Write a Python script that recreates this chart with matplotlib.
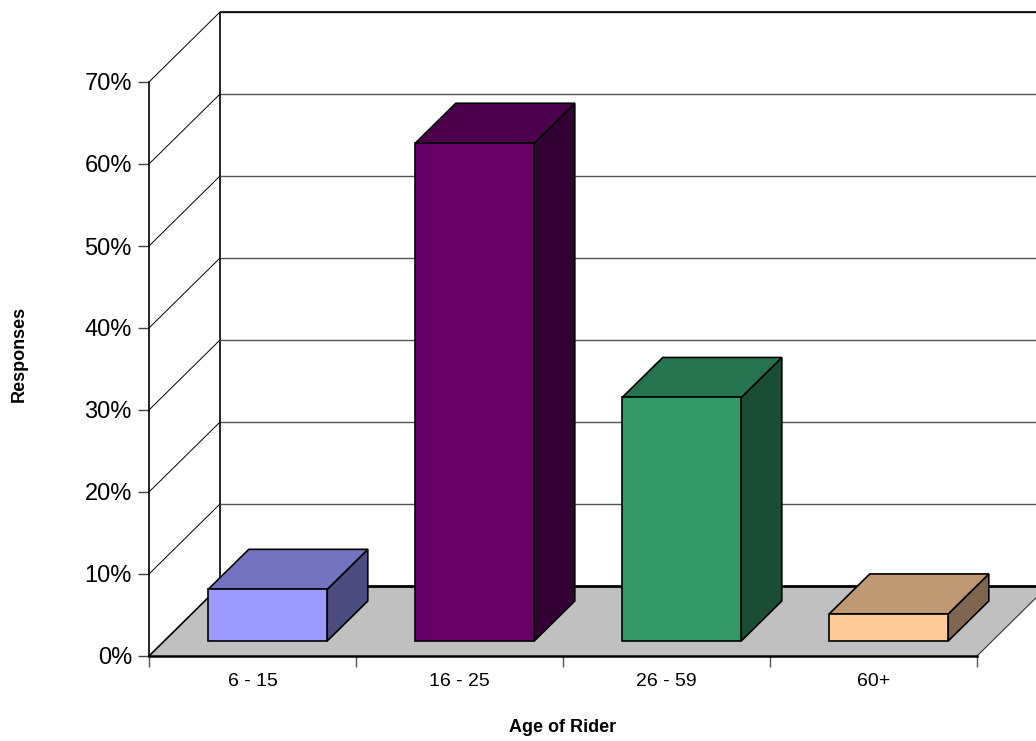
import matplotlib
matplotlib.use("Agg")
import matplotlib.pyplot as plt
from matplotlib.patches import Polygon

plt.rcParams['font.family'] = ['Liberation Sans', 'DejaVu Sans']

# Share of responses by age group (percent)
categories = ["6 - 15", "16 - 25", "26 - 59", "60+"]
responses = [6.3, 60.7, 29.7, 3.3]
y_ticks = [0, 10, 20, 30, 40, 50, 60, 70]
y_tick_labels = ["0%", "10%", "20%", "30%", "40%", "50%", "60%", "70%"]

front_colors = ["#9999FF", "#660066", "#339966", "#FFCC99"]
top_colors = ["#7373BF", "#4C004C", "#267350", "#BF9973"]
side_colors = ["#4C4C80", "#330033", "#1A4D33", "#806650"]

W, H = 1036, 741
fig = plt.figure(figsize=(W / 100, H / 100), dpi=100)
fig.patch.set_facecolor("white")

# front plane of the 3-D box: x in category units, y in percent
ax = fig.add_axes([149 / W, (H - 656) / H, (977 - 149) / W, (656 - 82) / H])
n = len(categories)
ymax = 70
ax.set_xlim(0, n)
ax.set_ylim(0, ymax)
ax.patch.set_alpha(0)

# oblique depth offset (full depth) in data units
DX = 71 / 207.0
DY = 70 / 8.2
BAR_W = 0.575
D0, D1 = 15 / 70.0, 55 / 70.0


def proj(x, y, d):
    return (x + d * DX, y + d * DY)


def poly(pts, fc, ec="black", lw=1.0, z=1):
    p = Polygon([proj(*q) for q in pts], closed=True, facecolor=fc,
                edgecolor=ec, linewidth=lw, zorder=z, clip_on=False,
                joinstyle="miter")
    ax.add_patch(p)


def line(a, b, color="black", lw=1.0, z=2):
    pa, pb = proj(*a), proj(*b)
    ax.plot([pa[0], pb[0]], [pa[1], pb[1]], color=color, lw=lw, zorder=z,
            clip_on=False, solid_capstyle="butt")


# walls and floor
poly([(0, 0, 1), (n, 0, 1), (n, ymax, 1), (0, ymax, 1)], "white", lw=0, z=0.5)
poly([(0, 0, 0), (0, 0, 1), (0, ymax, 1), (0, ymax, 0)], "white", lw=0, z=0.5)
for v in y_ticks[1:]:
    line((0, v, 0), (0, v, 1), color="black", lw=0.7, z=1)
    line((0, v, 1), (n, v, 1), color="#555555", lw=1.0, z=1)
line((0, ymax, 1), (n, ymax, 1), color="black", lw=1.2, z=1.1)
line((0, 0, 1), (0, ymax, 1), color="black", lw=1.2, z=1.1)

poly([(0, 0, 0), (n, 0, 0), (n, 0, 1), (0, 0, 1)], "#C0C0C0", lw=0, z=1.5)
line((0, 0, 1), (n, 0, 1), color="black", lw=2.0, z=1.6)
line((0, 0, 0), (0, 0, 1), color="black", lw=1.2, z=1.6)
line((n, 0, 0), (n, 0, 1), color="#333333", lw=0.8, z=1.6)

# bars
for i, h in enumerate(responses):
    c = i + 0.5
    x0, x1 = c - BAR_W / 2, c + BAR_W / 2
    z = 3 + i
    poly([(x1, 0, D0), (x1, 0, D1), (x1, h, D1), (x1, h, D0)],
         side_colors[i], lw=1.2, z=z)
    poly([(x0, h, D0), (x1, h, D0), (x1, h, D1), (x0, h, D1)],
         top_colors[i], lw=1.2, z=z)
    poly([(x0, 0, D0), (x1, 0, D0), (x1, h, D0), (x0, h, D0)],
         front_colors[i], lw=1.2, z=z + 0.1)

# axes, ticks and labels
for s in ["top", "right"]:
    ax.spines[s].set_visible(False)
ax.spines["left"].set_color("black")
ax.spines["left"].set_linewidth(1.2)
ax.spines["bottom"].set_color("black")
ax.spines["bottom"].set_linewidth(1.8)
ax.spines["left"].set_zorder(2)
ax.spines["bottom"].set_zorder(2)

ax.set_yticks(y_ticks)
ax.set_yticklabels(y_tick_labels, fontsize=17)
ax.tick_params(axis="y", direction="out", length=8, width=1.0,
               color="#444444", pad=4.3)
ax.set_xticks(range(n + 1))
ax.set_xticklabels([""] * (n + 1))
ax.set_xticks([i + 0.5 for i in range(n)], minor=True)
ax.set_xticklabels(categories, minor=True, fontsize=14)
ax.tick_params(axis="x", which="major", direction="out", length=8,
               width=1.0, color="#555555")
ax.tick_params(axis="x", which="minor", length=0, pad=12.5)

ax.set_xlabel("Age of Rider", fontsize=13, fontweight="bold")
ax.xaxis.set_label_coords(0.5, -0.110)
ax.set_ylabel("Responses", fontsize=13, fontweight="bold")
ax.yaxis.set_label_coords(-0.147, 0.527)

fig.savefig("out.png", dpi=100, facecolor="white")
